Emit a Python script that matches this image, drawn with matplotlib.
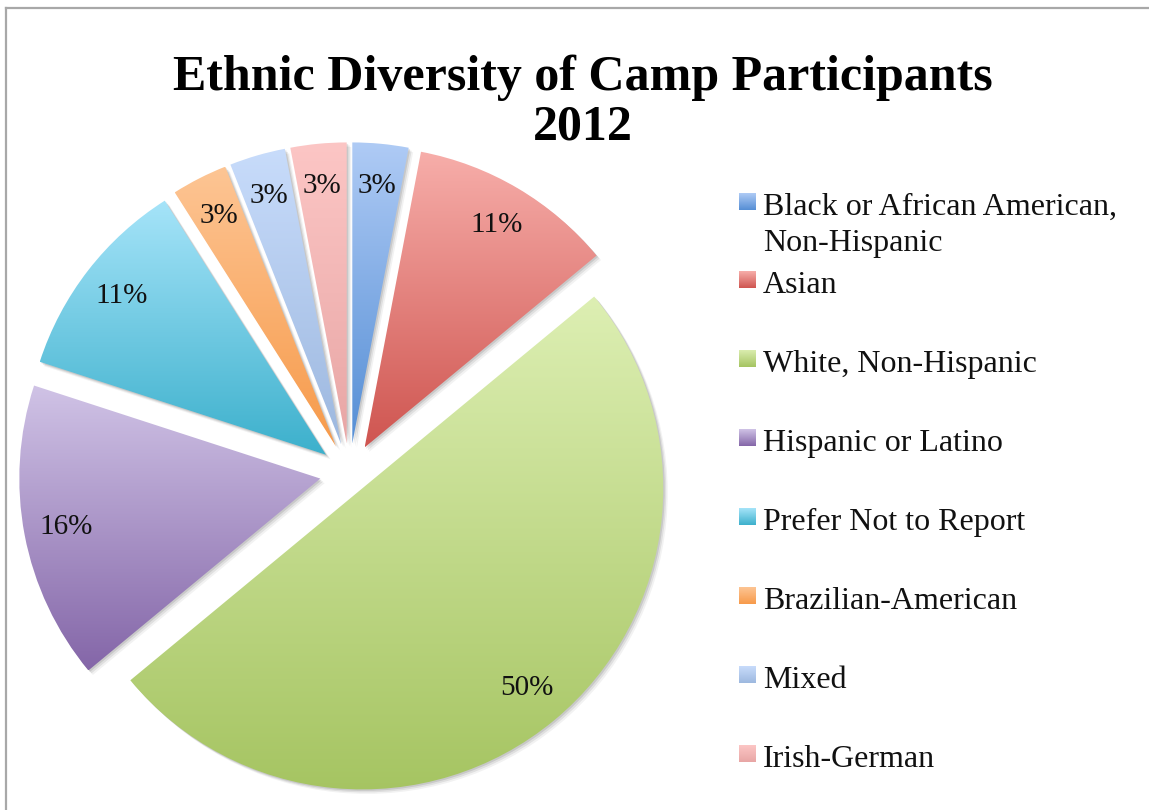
import matplotlib
matplotlib.use("Agg")
import matplotlib.pyplot as plt
import numpy as np
from matplotlib.colors import LinearSegmentedColormap
from matplotlib.patches import Wedge
from matplotlib.lines import Line2D

title = "Ethnic Diversity of Camp Participants\n2012"
groups = ["Black or African American,\nNon-Hispanic", "Asian", "White, Non-Hispanic",
          "Hispanic or Latino", "Prefer Not to Report", "Brazilian-American",
          "Mixed", "Irish-German"]
shares = [3, 11, 50, 16, 11, 3, 3, 3]
# gradient colours: top, bottom
tops = ['#AFCBF5', '#F7AEAA', '#DDEFB3', '#D0C3E6', '#A6E4F9', '#FDC594', '#C8DCFB', '#FCC6C5']
bots = ['#558ED5', '#CF5550', '#A5C461', '#8466A8', '#3CB0CC', '#F79A4A', '#9DB8DF', '#E8A6A5']

W, H = 1149, 810
cx, cy, R = 349.5, 473, 301
expl = [29.7 / R] * len(shares)
expl[2] = 20 / R

plt.rcParams['font.family'] = ['Liberation Serif', 'DejaVu Serif']

fig = plt.figure(figsize=(W / 100, H / 100), dpi=100)
ax = fig.add_axes([0, 0, 1, 1])
wedges, texts, autotexts = ax.pie(shares, explode=expl, startangle=90, counterclock=False,
                                  autopct=lambda p: '%.0f%%' % p, pctdistance=0.86,
                                  textprops={'fontsize': 21, 'color': '#111111'})

grad = np.linspace(0, 1, 256).reshape(-1, 1)
for w, t, b in zip(wedges, tops, bots):
    v = w.get_patch_transform().transform(w.get_path().vertices)
    x0, y0 = v.min(axis=0)
    x1, y1 = v.max(axis=0)
    # soft shadow
    for k, a in [(1.5, 0.10), (3, 0.08), (4.5, 0.05)]:
        sh = Wedge((w.center[0] + k / R, w.center[1] - k / R), w.r, w.theta1, w.theta2,
                   color='black', alpha=a, lw=0, zorder=0.5)
        ax.add_patch(sh)
    cm = LinearSegmentedColormap.from_list('g', [b, t])
    im = ax.imshow(grad, extent=[x0, x1, y0, y1], origin='lower', cmap=cm,
                   aspect='auto', zorder=1, interpolation='bilinear')
    im.set_clip_path(w)
    w.set_facecolor('none')
    w.set_edgecolor('none')
    w.set_zorder(1)
for t in autotexts:
    t.set_zorder(3)

ax.set_xlim(-cx / R, (W - cx) / R)
ax.set_ylim(-(H - cy) / R, cy / R)
ax.set_aspect('auto')
ax.axis('off')

# va='baseline' on two lines anchors the last line
fig.text(583 / W, 1 - 140 / H, title, ha='center', va='baseline', fontsize=36,
         fontweight='bold', linespacing=1.12)

# legend, drawn by hand
base = [215] + [293 + 79 * i for i in range(len(groups) - 1)]
for lab, t, b, y in zip(groups, tops, bots, base):
    for j, line in enumerate(lab.split('\n')):
        fig.text(763 / W, 1 - (y + 36 * j) / H, line, ha='left', va='baseline',
                 fontsize=23, color='#111111')
    mk = fig.add_axes([739 / W, 1 - (y - 5) / H, 17 / W, 17 / H])
    mk.imshow(grad, cmap=LinearSegmentedColormap.from_list('m', [b, t]), origin='lower',
              aspect='auto', extent=[0, 1, 0, 1])
    mk.axis('off')

fig.add_artist(Line2D([6 / W, 1], [1 - 8 / H, 1 - 8 / H], color='#A8A8A8', lw=1.6))
fig.add_artist(Line2D([6 / W, 6 / W], [0, 1 - 8 / H], color='#A8A8A8', lw=1.6))

fig.savefig('out.png', dpi=100)
